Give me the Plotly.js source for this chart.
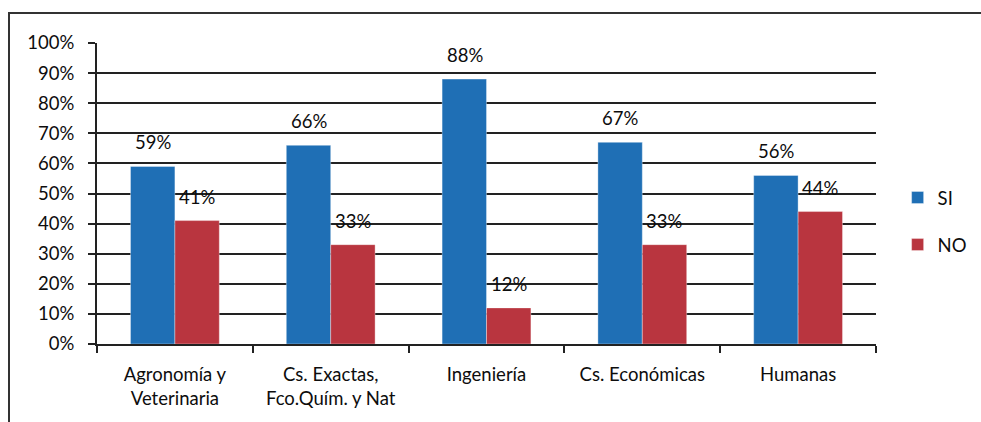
<!DOCTYPE html>
<html>
<head>
<meta charset="utf-8">
<script src="https://cdn.plot.ly/plotly-3.0.1.min.js"></script>
<style>html,body{margin:0;padding:0;background:#fff;}#chart{width:981px;height:422px;}</style>
</head>
<body>
<div id="chart"></div>
<script>
const categories = ["Agronomía y<br>Veterinaria", "Cs. Exactas,<br>Fco.Quím. y Nat", "Ingeniería", "Cs. Económicas", "Humanas"];
const siValues = [59, 66, 88, 67, 56];
const noValues = [41, 33, 12, 33, 44];
const yTickVals = [0, 10, 20, 30, 40, 50, 60, 70, 80, 90, 100];
const yTickText = ["0%", "10%", "20%", "30%", "40%", "50%", "60%", "70%", "80%", "90%", "100%"];

const FONT = "Lato, 'Open Sans', sans-serif";
const TXT = "#0d0d0d";
const FS = 18.5;

const traces = [
  {type: "bar", name: "SI", x: categories, y: siValues, marker: {color: "#1f6fb5", line: {color: "rgba(255,255,255,0.35)", width: 1}}, legendgroup: "a", hoverinfo: "skip"},
  {type: "bar", name: "NO", x: categories, y: noValues, marker: {color: "#b9353f", line: {color: "rgba(255,255,255,0.35)", width: 1}}, legendgroup: "b", hoverinfo: "skip"}
];

const annotations = [];
const half = 22;
categories.forEach((c, i) => {
  annotations.push({x: c, y: siValues[i], xref: "x", yref: "y", text: siValues[i] + "%", showarrow: false, xshift: -half, yshift: 24, yanchor: "middle", font: {family: FONT, size: FS, color: TXT}});
  annotations.push({x: c, y: noValues[i], xref: "x", yref: "y", text: noValues[i] + "%", showarrow: false, xshift: half, yshift: 24, yanchor: "middle", font: {family: FONT, size: FS, color: TXT}});
});

const layout = {
  width: 981, height: 422,
  margin: {l: 97, r: 105, t: 43, b: 78, autoexpand: false},
  paper_bgcolor: "#fff", plot_bgcolor: "#fff",
  font: {family: FONT, size: FS, color: TXT},
  barmode: "group", bargap: 0.43, bargroupgap: 0,
  showlegend: true,
  legend: {xref: "container", x: 0.915, xanchor: "left", y: 0.407, yanchor: "middle", traceorder: "grouped", tracegroupgap: 20, font: {family: FONT, size: FS, color: TXT}, bgcolor: "rgba(0,0,0,0)"},
  xaxis: {type: "category", showgrid: false, showline: true, linecolor: "#222", linewidth: 2, ticks: "outside", tickson: "boundaries", ticklen: 7, tickwidth: 2, tickcolor: "#222", ticklabelstandoff: 13, tickfont: {family: FONT, size: FS, color: TXT}, fixedrange: true},
  yaxis: {range: [0, 100], tickvals: yTickVals, ticktext: yTickText, showgrid: true, gridcolor: "#222", gridwidth: 2, showline: true, linecolor: "#222", linewidth: 2, ticks: "outside", ticklen: 7, tickwidth: 2, tickcolor: "#222", ticklabelstandoff: 10, zeroline: false, tickfont: {family: FONT, size: FS, color: TXT}, fixedrange: true},
  annotations: annotations,
  shapes: [{type: "rect", xref: "paper", yref: "paper", x0: (9 - 97) / 779, x1: 1.3, y0: -0.5, y1: 1 + 30 / 301, line: {color: "#333", width: 2}, fillcolor: "rgba(0,0,0,0)", layer: "below"}]
};

Plotly.newPlot("chart", traces, layout, {staticPlot: true, displayModeBar: false});
</script>
</body>
</html>
